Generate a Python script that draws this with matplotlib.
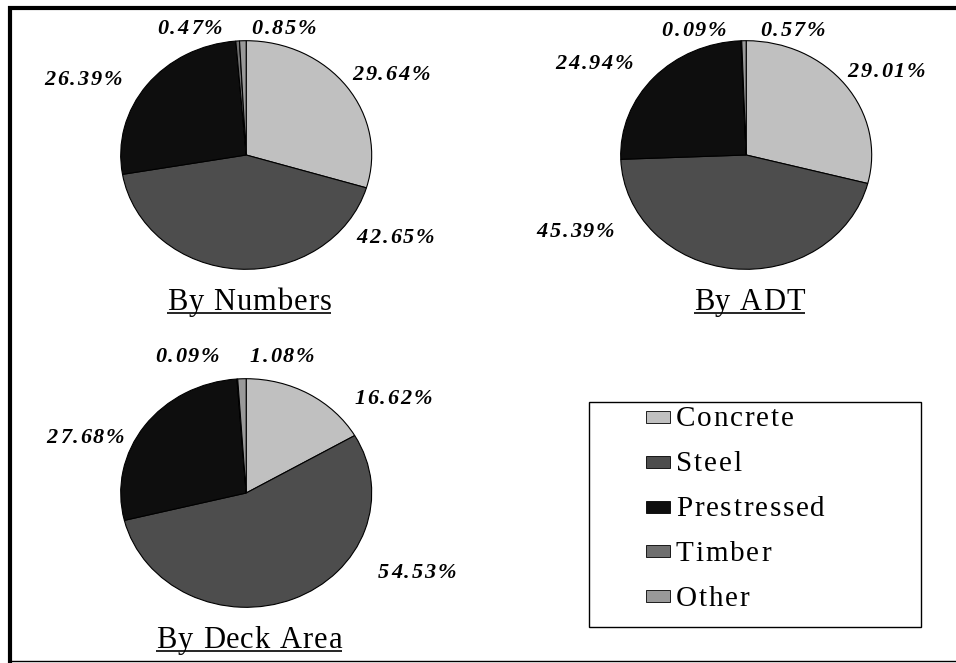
import matplotlib
matplotlib.use("Agg")
import matplotlib.pyplot as plt
from matplotlib.font_manager import FontProperties, findfont, get_font
from matplotlib.patches import Rectangle
try:
    from matplotlib.ft2font import LoadFlags
    NO_HINT = LoadFlags.NO_HINTING
except ImportError:
    from matplotlib.ft2font import LOAD_NO_HINTING as NO_HINT

# data
categories = ["Concrete", "Steel", "Prestressed", "Timber", "Other"]
by_numbers = [29.64, 42.65, 26.39, 0.47, 0.85]
by_adt = [29.01, 45.39, 24.94, 0.09, 0.57]
by_deck_area = [16.62, 54.53, 27.68, 0.09, 1.08]
titles = ["By Numbers", "By ADT", "By Deck Area"]

colors = ["#c0c0c0", "#4d4d4d", "#0e0e0e", "#6f6f6f", "#999999"]

# label spots (pie data coords), hand placed like the original
label_pos = [
    [(1.155, 0.726), (1.19, -0.70), (-1.30, 0.68), (-0.45, 1.12), (0.30, 1.12)],
    [(1.118, 0.752), (-1.36, -0.65), (-1.21, 0.82), (-0.416, 1.11), (0.37, 1.11)],
    [(1.17, 0.84), (1.36, -0.68), (-1.28, 0.50), (-0.47, 1.21), (0.285, 1.21)],
]

W, H = 956, 663
fig = plt.figure(figsize=(W / 100, H / 100), dpi=100)
fig.patch.set_facecolor("white")

# pie boxes in pixels: left, top, width, height
boxes = [(120.7, 40.7, 251, 228.6), (620.7, 40.7, 251, 228.6), (120.7, 378.7, 251, 228.6)]

bg = fig.add_axes([0, 0, 1, 1], zorder=10)
bg.set_xlim(0, W)
bg.set_ylim(H, 0)
bg.axis("off")

lab_font = FontProperties(family="Liberation Serif", weight="bold", style="italic", size=16)
title_font = FontProperties(family="Liberation Serif", size=22)
leg_font = FontProperties(family="Liberation Serif", size=21)


def advances(s, prop):
    font = get_font(findfont(prop))
    font.set_size(prop.get_size_in_points(), 100)
    return [font.load_char(ord(c), flags=NO_HINT).linearHoriAdvance / 65536 for c in s]


def spaced(x, y, s, prop, track, ha="center", underline=False):
    adv = advances(s, prop)
    total = sum(adv) + track * (len(s) - 1)
    x0 = x - total / 2 if ha == "center" else x
    cx = x0
    for c, a in zip(s, adv):
        bg.text(cx, y, c, fontproperties=prop, ha="left", va="baseline", color="black")
        cx += a + track
    if underline:
        bg.plot([x0, x0 + total], [y + 3, y + 3], color="black", lw=1.2, solid_capstyle="butt")


for vals, title, box, lpos in zip([by_numbers, by_adt, by_deck_area], titles, boxes, label_pos):
    l, t, w, h = box
    ax = fig.add_axes([l / W, 1 - (t + h) / H, w / W, h / H])
    wedges, _ = ax.pie(vals, colors=colors, startangle=90, counterclock=False,
                       wedgeprops=dict(edgecolor="black", linewidth=0.8))
    for wd in wedges:
        wd.set_clip_on(False)
    ax.set_xlim(-1, 1)
    ax.set_ylim(-1, 1)
    ax.set_aspect("auto")
    cx, cy = l + w / 2, t + h / 2
    for v, (px, py) in zip(vals, lpos):
        spaced(cx + px * w / 2, cy - py * h / 2 + 7.5, f"{v:.2f}%", lab_font, 1.8)
    spaced(cx + 3, t + h + 41, title, title_font, 1.0, underline=True)

# legend box
bg.add_patch(Rectangle((589, 402), 332, 225, fill=False, edgecolor="black", lw=1.0))
for i, (name, col) in enumerate(zip(categories, colors)):
    ry = 417 + i * 44.8
    bg.add_patch(Rectangle((646, ry - 6), 24, 12, facecolor=col, edgecolor="black", lw=0.6))
    spaced(676, ry + 9.5, name, leg_font, 1.8, ha="left")

# frame lines
bg.plot([8, W], [8, 8], color="black", lw=3, solid_capstyle="butt")
bg.plot([10, 10], [6, H], color="black", lw=3, solid_capstyle="butt")
bg.plot([10, W], [661, 661], color="black", lw=1)

fig.savefig("out.png", dpi=100)
